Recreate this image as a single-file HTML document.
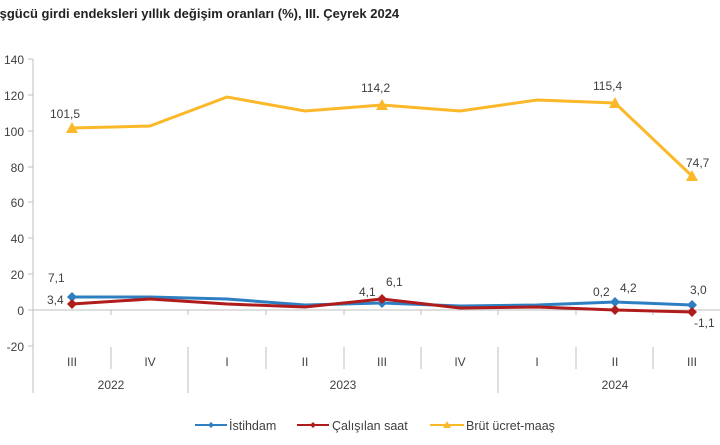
<!DOCTYPE html>
<html><head><meta charset="utf-8"><style>
body{margin:0;background:#fff;width:720px;height:440px;overflow:hidden}
text{font-family:"Liberation Sans",Arial,sans-serif;fill:#404040}
</style></head><body>
<svg width="720" height="440" viewBox="0 0 720 440">
<text x="-4" y="18" font-size="13" font-weight="bold" fill="#222" style="fill:#222">İşgücü girdi endeksleri yıllık değişim oranları (%), III. Çeyrek 2024</text>
<g font-size="12" text-anchor="end">
<text x="24" y="64">140</text><text x="24" y="100">120</text><text x="24" y="136">100</text>
<text x="24" y="172">80</text><text x="24" y="207">60</text><text x="24" y="243">40</text>
<text x="24" y="279">20</text><text x="24" y="315">0</text><text x="24" y="351">-20</text>
</g>
<g stroke="#bfbfbf" stroke-width="1" fill="none">
<line x1="33" y1="59" x2="33" y2="393"/>
<line x1="33" y1="310" x2="731" y2="310"/>
<line x1="28" y1="59" x2="33" y2="59"/><line x1="28" y1="95" x2="33" y2="95"/><line x1="28" y1="131" x2="33" y2="131"/><line x1="28" y1="167" x2="33" y2="167"/><line x1="28" y1="202" x2="33" y2="202"/><line x1="28" y1="238" x2="33" y2="238"/><line x1="28" y1="274" x2="33" y2="274"/><line x1="28" y1="310" x2="33" y2="310"/><line x1="28" y1="346" x2="33" y2="346"/>
<line x1="111" y1="310" x2="111" y2="315"/><line x1="188" y1="310" x2="188" y2="315"/><line x1="266" y1="310" x2="266" y2="315"/><line x1="344" y1="310" x2="344" y2="315"/><line x1="421" y1="310" x2="421" y2="315"/><line x1="498" y1="310" x2="498" y2="315"/><line x1="576" y1="310" x2="576" y2="315"/><line x1="653" y1="310" x2="653" y2="315"/>
<line x1="111" y1="347" x2="111" y2="369"/><line x1="188" y1="347" x2="188" y2="393"/><line x1="266" y1="347" x2="266" y2="369"/><line x1="344" y1="347" x2="344" y2="369"/><line x1="421" y1="347" x2="421" y2="369"/><line x1="498" y1="347" x2="498" y2="393"/><line x1="576" y1="347" x2="576" y2="369"/><line x1="653" y1="347" x2="653" y2="369"/>
</g>
<g font-size="12" text-anchor="middle">
<text x="72" y="366">III</text><text x="150" y="366">IV</text><text x="227" y="366">I</text><text x="305" y="366">II</text><text x="382" y="366">III</text><text x="460" y="366">IV</text><text x="537" y="366">I</text><text x="615" y="366">II</text><text x="692" y="366">III</text>
<text x="111" y="389">2022</text><text x="343" y="389">2023</text><text x="615" y="389">2024</text>
</g>
<polyline fill="none" stroke="#fbb829" stroke-width="3" points="72,128 150,126 227,97 305,111 382,105 460,111 537,100 615,103 692,176"/>
<polyline fill="none" stroke="#2e7fc2" stroke-width="3" points="72,297 150,297 227,299 305,305 382,303 460,306 537,305 615,302 692,305"/>
<polyline fill="none" stroke="#b01c1c" stroke-width="3" points="72,304 150,299 227,304 305,307 382,299 460,308 537,307 615,310 692,312"/>
<g fill="#fbb829">
<polygon points="72,122 78,133 66,133"/><polygon points="382,99 388,110 376,110"/><polygon points="615,97 621,108 609,108"/><polygon points="692,170 698,181 686,181"/>
</g>
<g fill="#2e7fc2">
<polygon points="72,292 77,297 72,302 67,297"/><polygon points="382,298 387,303 382,308 377,303"/><polygon points="615,297 620,302 615,307 610,302"/><polygon points="692,300 697,305 692,310 687,305"/>
</g>
<g fill="#b01c1c">
<polygon points="72,299 77,304 72,309 67,304"/><polygon points="382,294 387,299 382,304 377,299"/><polygon points="615,305 620,310 615,315 610,310"/><polygon points="692,307 697,312 692,317 687,312"/>
</g>
<g font-size="12">
<text x="50" y="118">101,5</text><text x="361" y="92">114,2</text><text x="593" y="90">115,4</text><text x="686" y="167">74,7</text>
<text x="48" y="282">7,1</text><text x="47" y="304">3,4</text>
<text x="359" y="296">4,1</text><text x="386" y="286">6,1</text>
<text x="593" y="296">0,2</text><text x="620" y="292">4,2</text>
<text x="690" y="294">3,0</text><text x="694" y="327">-1,1</text>
</g>
<g font-size="12.5">
<line x1="195" y1="425" x2="227" y2="425" stroke="#2e7fc2" stroke-width="2"/><polygon points="211,422 214,425 211,428 208,425" fill="#2e7fc2"/>
<text x="229" y="430">İstihdam</text>
<line x1="297" y1="425" x2="329" y2="425" stroke="#b01c1c" stroke-width="2"/><polygon points="313,422 316,425 313,428 310,425" fill="#b01c1c"/>
<text x="332" y="430">Çalışılan saat</text>
<line x1="430" y1="425" x2="464" y2="425" stroke="#fbb829" stroke-width="2"/><polygon points="447,421 451,428 443,428" fill="#fbb829"/>
<text x="466" y="430">Brüt ücret-maaş</text>
</g>
</svg>
</body></html>
